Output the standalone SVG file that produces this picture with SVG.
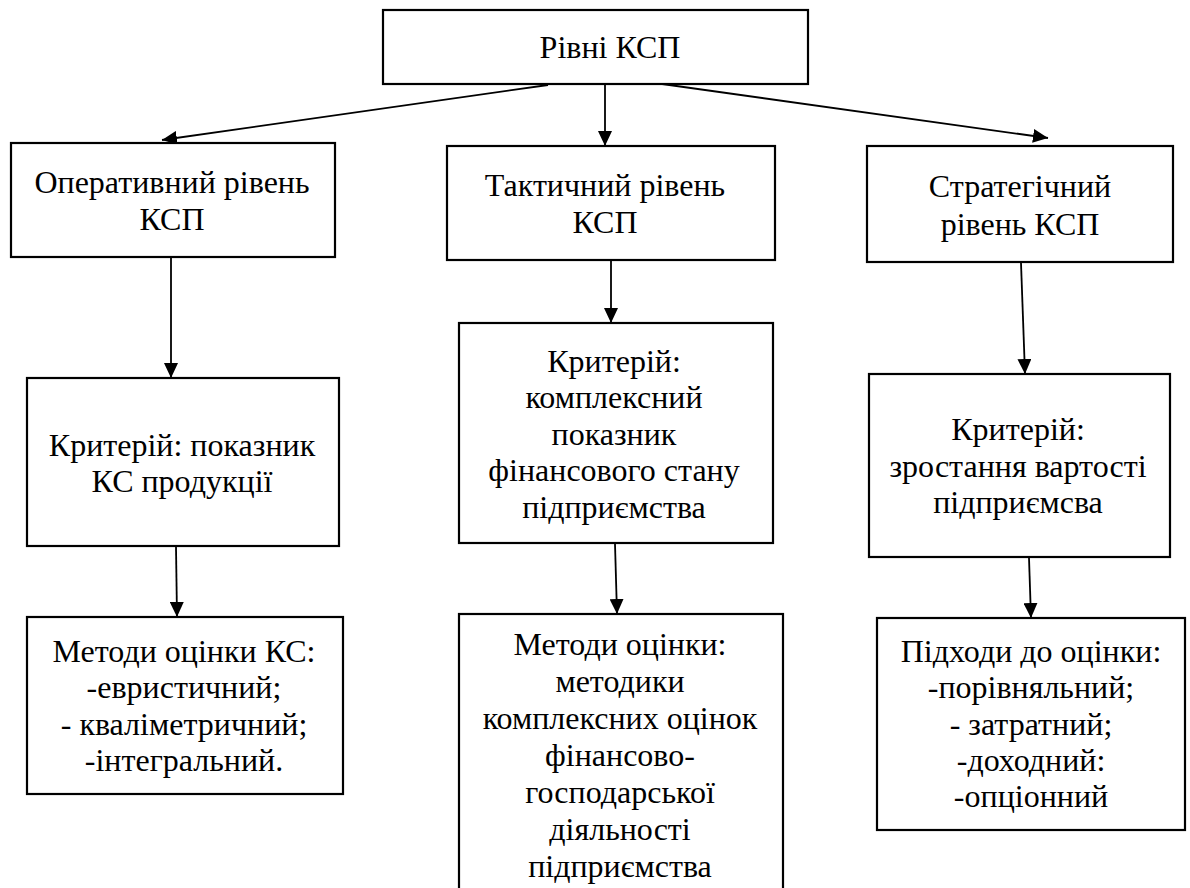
<svg xmlns="http://www.w3.org/2000/svg" width="1190" height="888" viewBox="0 0 1190 888">
<style>
.box{fill:#fff;stroke:#000;stroke-width:2.2}
.c{stroke:#000;stroke-width:1.8;fill:none;marker-end:url(#ah)}
.t{font-family:"Liberation Serif","Times New Roman",serif;font-size:32px;fill:#000;text-anchor:middle}
</style>
<defs>
<marker id="ah" markerUnits="userSpaceOnUse" markerWidth="15" markerHeight="14" refX="15" refY="7" orient="auto">
<path d="M0,0 L15,7 L0,14 z" fill="#000"/>
</marker>
</defs>
<rect width="1190" height="888" fill="#fff"/>
<g id="connectors">
<line class="c" x1="548" y1="85" x2="162" y2="140"/>
<line class="c" x1="605" y1="85" x2="605" y2="146"/>
<line class="c" x1="655" y1="83" x2="1048" y2="138"/>
<line class="c" x1="171" y1="258" x2="171" y2="378"/>
<line class="c" x1="176" y1="547" x2="177" y2="617"/>
<line class="c" x1="611" y1="261" x2="611" y2="323"/>
<line class="c" x1="615" y1="544" x2="617" y2="614"/>
<line class="c" x1="1021" y1="263" x2="1025" y2="374"/>
<line class="c" x1="1029" y1="558" x2="1031" y2="618"/>
</g>
<g id="root">
<rect class="box" x="383" y="10" width="425" height="74"/>
<text class="t" x="610" y="58">Рівні КСП</text>
</g>
<g id="operative">
<rect class="box" x="11" y="143" width="324" height="114"/>
<text class="t" x="172" y="193">Оперативний рівень</text>
<text class="t" x="172" y="230">КСП</text>
</g>
<g id="tactical">
<rect class="box" x="447" y="146" width="328" height="114"/>
<text class="t" x="605" y="196">Тактичний рівень</text>
<text class="t" x="605" y="233">КСП</text>
</g>
<g id="strategic">
<rect class="box" x="867" y="146" width="306" height="116"/>
<text class="t" x="1020" y="197">Стратегічний</text>
<text class="t" x="1020" y="235">рівень КСП</text>
</g>
<g id="criterion1">
<rect class="box" x="27" y="378" width="312" height="168"/>
<text class="t" x="182" y="456">Критерій: показник</text>
<text class="t" x="182" y="492">КС продукції</text>
</g>
<g id="criterion2">
<rect class="box" x="459" y="323" width="314" height="220"/>
<text class="t" x="614" y="372">Критерій:</text>
<text class="t" x="614" y="408">комплексний</text>
<text class="t" x="614" y="445">показник</text>
<text class="t" x="614" y="481">фінансового стану</text>
<text class="t" x="614" y="518">підприємства</text>
</g>
<g id="criterion3">
<rect class="box" x="869" y="374" width="301" height="183"/>
<text class="t" x="1018" y="440">Критерій:</text>
<text class="t" x="1018" y="477">зростання вартості</text>
<text class="t" x="1018" y="513">підприємсва</text>
</g>
<g id="methods1">
<rect class="box" x="27" y="617" width="316" height="177"/>
<text class="t" x="184" y="662">Методи оцінки КС:</text>
<text class="t" x="184" y="698">-евристичний;</text>
<text class="t" x="184" y="735">- кваліметричний;</text>
<text class="t" x="184" y="771">-інтегральний.</text>
</g>
<g id="methods2">
<rect class="box" x="459" y="614" width="324" height="290"/>
<text class="t" x="620" y="655">Методи оцінки:</text>
<text class="t" x="620" y="692">методики</text>
<text class="t" x="620" y="729">комплексних оцінок</text>
<text class="t" x="620" y="766">фінансово-</text>
<text class="t" x="620" y="803">господарської</text>
<text class="t" x="620" y="840">діяльності</text>
<text class="t" x="620" y="877">підприємства</text>
</g>
<g id="methods3">
<rect class="box" x="877" y="618" width="308" height="212"/>
<text class="t" x="1031" y="662">Підходи до оцінки:</text>
<text class="t" x="1031" y="698">-порівняльний;</text>
<text class="t" x="1031" y="735">- затратний;</text>
<text class="t" x="1031" y="771">-доходний:</text>
<text class="t" x="1031" y="807">-опціонний</text>
</g>
</svg>
